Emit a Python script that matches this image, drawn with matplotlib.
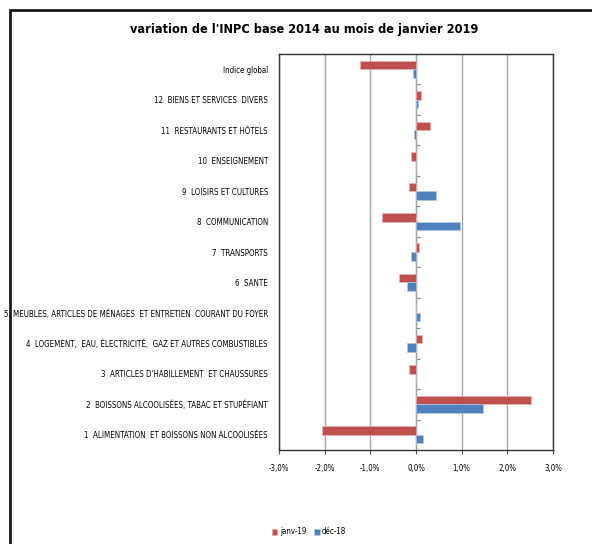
import matplotlib

matplotlib.use("Agg")
import matplotlib.pyplot as plt
from matplotlib.patches import Rectangle
from matplotlib.ticker import FuncFormatter
from matplotlib import font_manager
import numpy as np

names = {f.name for f in font_manager.fontManager.ttflist}
if "Liberation Sans Narrow" in names:
    plt.rcParams["font.family"] = ["Liberation Sans Narrow", "DejaVu Sans"]
else:
    plt.rcParams["font.family"] = ["DejaVu Sans"]
    plt.rcParams["font.stretch"] = "condensed"

# categories from bottom to top
CATEGORIES = [
    "1  ALIMENTATION  ET BOISSONS NON ALCOOLISÉES",
    "2  BOISSONS ALCOOLISÉES, TABAC ET STUPÉFIANT",
    "3  ARTICLES D'HABILLEMENT  ET CHAUSSURES",
    "4  LOGEMENT,  EAU, ÉLECTRICITÉ,  GAZ ET AUTRES COMBUSTIBLES",
    "5  MEUBLES, ARTICLES DE MÉNAGES  ET ENTRETIEN  COURANT DU FOYER",
    "6  SANTE",
    "7  TRANSPORTS",
    "8  COMMUNICATION",
    "9  LOISIRS ET CULTURES",
    "10  ENSEIGNEMENT",
    "11  RESTAURANTS ET HÔTELS",
    "12  BIENS ET SERVICES  DIVERS",
    "Indice global",
]
JANV19 = [-2.06, 2.51, -0.16, 0.13, -0.01, -0.37, 0.07, -0.74, -0.15, -0.10, 0.30, 0.10, -1.23]
DEC18 = [0.15, 1.47, 0.0, -0.19, 0.09, -0.20, -0.10, 0.96, 0.44, 0.0, -0.05, 0.05, -0.07]
XTICKS = [-3, -2, -1, 0, 1, 2, 3]

RED = "#C0504D"
BLUE = "#4F81BD"


def fit_size(fig, text, target_px, size, **kw):
    t = fig.text(0, 0, text, fontsize=size, **kw)
    w = t.get_window_extent(renderer=fig.canvas.get_renderer()).width
    t.remove()
    return size * target_px / w


fig = plt.figure(figsize=(5.92, 5.44), dpi=100)
fig.patches.append(Rectangle((10 / 592, -0.05), 1.2, 1 - 10 / 544 + 0.05,
                             transform=fig.transFigure, fill=False,
                             edgecolor="#1a1a1a", linewidth=2.0))

label_fs = fit_size(fig, CATEGORIES[4], 262, 6.5)
title_fs = fit_size(fig, "variation de l'INPC base 2014 au mois de janvier 2019", 344, 12,
                    fontweight="bold")

ax = fig.add_axes([279 / 592, 1 - 450 / 544, 274 / 592, 396 / 544])
y = np.arange(len(CATEGORIES))
h = 0.28
ax.barh(y + h / 2, JANV19, height=h, color=RED, edgecolor="#e8b4b2", linewidth=0.5,
        label="janv-19", zorder=3)
ax.barh(y - h / 2, DEC18, height=h, color=BLUE, edgecolor="#b4c8e4", linewidth=0.5,
        label="déc-18", zorder=3)

ax.set_xlim(-3, 3)
ax.set_ylim(-0.5, len(CATEGORIES) - 0.5)
ax.set_xticks(XTICKS)
ax.xaxis.set_major_formatter(FuncFormatter(lambda v, p: f"{v:.1f}%".replace(".", ",")))
ax.tick_params(axis="x", labelsize=label_fs, length=3, color="#555555", pad=7)
ax.set_yticks(y)
ax.set_yticklabels(CATEGORIES, fontsize=label_fs)
ax.tick_params(axis="y", length=0, pad=8)
ax.grid(axis="x", color="#a6a6a6", linewidth=1.0, zorder=0)
for s in ax.spines.values():
    s.set_color("#333333")
    s.set_linewidth(1.0)

# category axis crossing at 0
sec = ax.secondary_yaxis(0.5)
sec.set_yticks(np.arange(len(CATEGORIES) + 1) - 0.5)
sec.set_yticklabels([])
sec.tick_params(length=3, color="#888888")
sec.spines["left"].set_color("#888888")
sec.spines["left"].set_linewidth(1.0)

fig.text(304 / 592, 1 - 30 / 544, "variation de l'INPC base 2014 au mois de janvier 2019",
         ha="center", va="center", fontsize=title_fs, fontweight="bold")

fig.legend(loc="center", bbox_to_anchor=(309 / 592, 1 - 532 / 544), ncol=2, frameon=False,
           fontsize=label_fs, handlelength=0.7, handleheight=0.7, handletextpad=0.3,
           columnspacing=1.0)

fig.savefig("out.png", dpi=100)
